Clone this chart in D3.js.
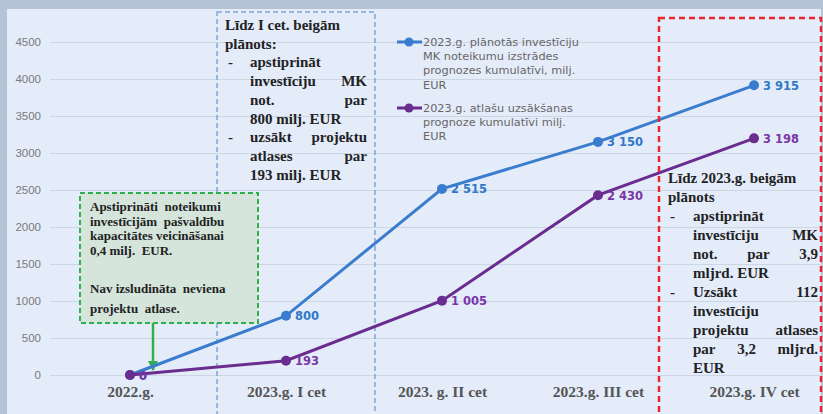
<!DOCTYPE html>
<html>
<head>
<meta charset="utf-8">
<script src="https://cdn.jsdelivr.net/npm/d3@7"></script>
<style>
  body { margin: 0; background: #b4c3d6; }
  svg { display: block; }
</style>
</head>
<body>
<div id="chart"></div>
<script>
// data
let categories = ["2022.g.", "2023.g. I cet", "2023. g. II cet", "2023.g. III cet", "2023.g. IV cet"];
let plannedValues = [0, 800, 2515, 3150, 3915];
let startedValues = [0, 193, 1005, 2430, 3198];
let yTicks = [0, 500, 1000, 1500, 2000, 2500, 3000, 3500, 4000, 4500];
let legendPlanned = ["2023.g. plānotās investīciju", "MK noteikumu izstrādes", "prognozes kumulatīvi, milj.", "EUR"];
let legendStarted = ["2023.g. atlašu uzsākšanas", "prognoze kumulatīvi milj.", "EUR"];

let svgWidth = 823;
let svgHeight = 414;
let blue = "#3a7ccd";
let purple = "#6a2d8f";

let svg = d3.select("#chart")
  .append("svg")
  .attr("width", svgWidth)
  .attr("height", svgHeight)

// gray frame + light panel
svg.append("rect").attr("width", svgWidth).attr("height", svgHeight).attr("fill", "#b4c3d6")
svg.append("rect").attr("x", 7).attr("y", 9).attr("width", 814).attr("height", 410).attr("fill", "#e4ecfa")

//scales
let xScale = d3.scalePoint().domain(categories).range([52, 832]).padding(0.5)
let yScale = d3.scaleLinear().domain([0, 4500]).range([375, 42])

// y axis with gridlines
let yAxis = d3.axisLeft(yScale).tickValues(yTicks).tickFormat(d3.format("d")).tickSize(-800).tickPadding(9)
let yG = svg.append("g").attr("transform", "translate(50,0)").call(yAxis)
yG.select(".domain").remove()
yG.selectAll(".tick line").attr("stroke", "#cdd6e3").attr("stroke-width", 1.2)
yG.selectAll(".tick text")
  .attr("fill", "#7a7a7a")
  .attr("font-family", "Liberation Sans")
  .attr("font-size", 11.5)

// x axis labels only
let xAxis = d3.axisBottom(xScale).tickSize(0).tickPadding(0)
let xG = svg.append("g").attr("transform", "translate(0,386)").call(xAxis)
xG.select(".domain").remove()
xG.selectAll(".tick text")
  .attr("fill", "#555")
  .attr("font-family", "Liberation Serif")
  .attr("font-weight", "bold")
  .attr("font-size", 15.5)
  .attr("dy", "0.71em")

// helper: lay words across a line like justified text
function justifyLine(g, words, x0, x1, y, opts) {
  let items = words.map(w => g.append("text").attr("y", y).text(w).call(opts))
  if (words.length == 1) { items[0].attr("x", x0); return }
  let widths = items.map(t => t.node().getComputedTextLength())
  let gap = (x1 - x0 - d3.sum(widths)) / (words.length - 1)
  let x = x0
  items.forEach((t, i) => { t.attr("x", x); x += widths[i] + gap })
}

function boxFont(size) {
  return function(sel) {
    sel.attr("font-family", "Liberation Serif").attr("font-weight", "bold")
      .attr("font-size", size).attr("fill", "#222")
  }
}

// blue dashed box (Q1)
let bBox = svg.append("g")
bBox.append("rect").attr("x", 217).attr("y", 12).attr("width", 158).attr("height", 420)
  .attr("fill", "none").attr("stroke", "#7ea5d8").attr("stroke-width", 1.5).attr("stroke-dasharray", "5,3")
let bLines = [
  {w: ["Līdz I cet. beigām"], x0: 225},
  {w: ["plānots:"], x0: 225},
  {w: ["-"], x0: 228, sub: ["apstiprināt"]},
  {w: ["investīciju", "MK"], x0: 250, x1: 367},
  {w: ["not.", "par"], x0: 250, x1: 367},
  {w: ["800 milj. EUR"], x0: 250},
  {w: ["-"], x0: 228, sub: ["uzsākt", "projektu"]},
  {w: ["atlases", "par"], x0: 250, x1: 367},
  {w: ["193 milj. EUR"], x0: 250}
]
bLines.forEach((l, i) => {
  let y = 30 + i * 18.7
  justifyLine(bBox, l.w, l.x0, l.x1, y, boxFont(15))
  if (l.sub) justifyLine(bBox, l.sub, 250, 367, y, boxFont(15))
})

// red dashed box (Q4)
let rBox = svg.append("g")
let rLines = [
  {w: ["Līdz 2023.g. beigām"], x0: 668},
  {w: ["plānots"], x0: 668},
  {w: ["-"], x0: 670, sub: ["apstiprināt"]},
  {w: ["investīciju", "MK"], x0: 693, x1: 818},
  {w: ["not.", "par", "3,9"], x0: 693, x1: 818},
  {w: ["mljrd. EUR"], x0: 693},
  {w: ["-"], x0: 670, sub: ["Uzsākt", "112"]},
  {w: ["investīciju"], x0: 693},
  {w: ["projektu", "atlases"], x0: 693, x1: 818},
  {w: ["par", "3,2", "mljrd."], x0: 693, x1: 818},
  {w: ["EUR"], x0: 693}
]

// green note box
let gBox = svg.append("g")
gBox.append("rect").attr("x", 80).attr("y", 193).attr("width", 178).attr("height", 130)
  .attr("fill", "#d5e5db").attr("stroke", "#2fb04c").attr("stroke-width", 2).attr("stroke-dasharray", "5,3")
let gLines = [
  {t: "Apstiprināti  noteikumi", y: 211},
  {t: "investīcijām  pašvaldību", y: 225.5},
  {t: "kapacitātes veicināšanai", y: 240},
  {t: "0,4 milj.  EUR.", y: 254.5},
  {t: "Nav izsludināta  neviena", y: 292.5},
  {t: "projektu  atlase.", y: 312.5}
]
gLines.forEach(l => {
  gBox.append("text").attr("x", 90).attr("y", l.y).attr("xml:space", "preserve").text(l.t).call(boxFont(13))
})
svg.append("defs").append("marker").attr("id", "arrow").attr("viewBox", "0 0 10 10")
  .attr("refX", 9).attr("refY", 5).attr("markerWidth", 4).attr("markerHeight", 4).attr("orient", "auto")
  .append("path").attr("d", "M0,0L10,5L0,10Z").attr("fill", "#2fb04c")
svg.append("line").attr("x1", 153).attr("x2", 153).attr("y1", 323).attr("y2", 370)
  .attr("stroke", "#2fb04c").attr("stroke-width", 2.5).attr("marker-end", "url(#arrow)")

// lines
let line = d3.line().x((d, i) => xScale(categories[i])).y(d => yScale(d))

function drawSeries(values, color, labelColor) {
  svg.append("path").datum(values).attr("d", line)
    .attr("fill", "none").attr("stroke", color).attr("stroke-width", 3)
  svg.selectAll(null).data(values).enter().append("circle")
    .attr("cx", (d, i) => xScale(categories[i])).attr("cy", d => yScale(d))
    .attr("r", 5).attr("fill", color)
  svg.selectAll(null).data(values).enter().append("text")
    .attr("x", (d, i) => xScale(categories[i]) + 9).attr("y", d => yScale(d) + 4.5)
    .attr("font-family", "DejaVu Sans").attr("font-weight", "bold").attr("font-size", 11.5)
    .attr("fill", labelColor)
    .text(d => d3.format(",")(d).replace(",", " "))
}
drawSeries(plannedValues, blue, "#2f78c8")
drawSeries(startedValues, purple, "#7a35a8")

// red box drawn over lines (text sits on top)
rBox.raise()
rBox.append("rect").attr("x", 659).attr("y", 18).attr("width", 162).attr("height", 420)
  .attr("fill", "none").attr("stroke", "#e8262b").attr("stroke-width", 2.5).attr("stroke-dasharray", "6,4")
rLines.forEach((l, i) => {
  let y = 183 + i * 19
  justifyLine(rBox, l.w, l.x0, l.x1, y, boxFont(15))
  if (l.sub) justifyLine(rBox, l.sub, 693, 818, y, boxFont(15))
})

// legend
let legend = svg.append("g")
function legendItem(lines, color, y) {
  legend.append("line").attr("x1", 397).attr("x2", 422).attr("y1", y).attr("y2", y)
    .attr("stroke", color).attr("stroke-width", 3)
  legend.append("circle").attr("cx", 409).attr("cy", y).attr("r", 4.5).attr("fill", color)
  lines.forEach((t, i) => {
    legend.append("text").attr("x", 423).attr("y", y + 4 + i * 14.2).text(t)
      .attr("font-family", "DejaVu Sans").attr("font-size", 11.3).attr("fill", "#666")
  })
}
legendItem(legendPlanned, blue, 42)
legendItem(legendStarted, purple, 108)
</script>
</body>
</html>
